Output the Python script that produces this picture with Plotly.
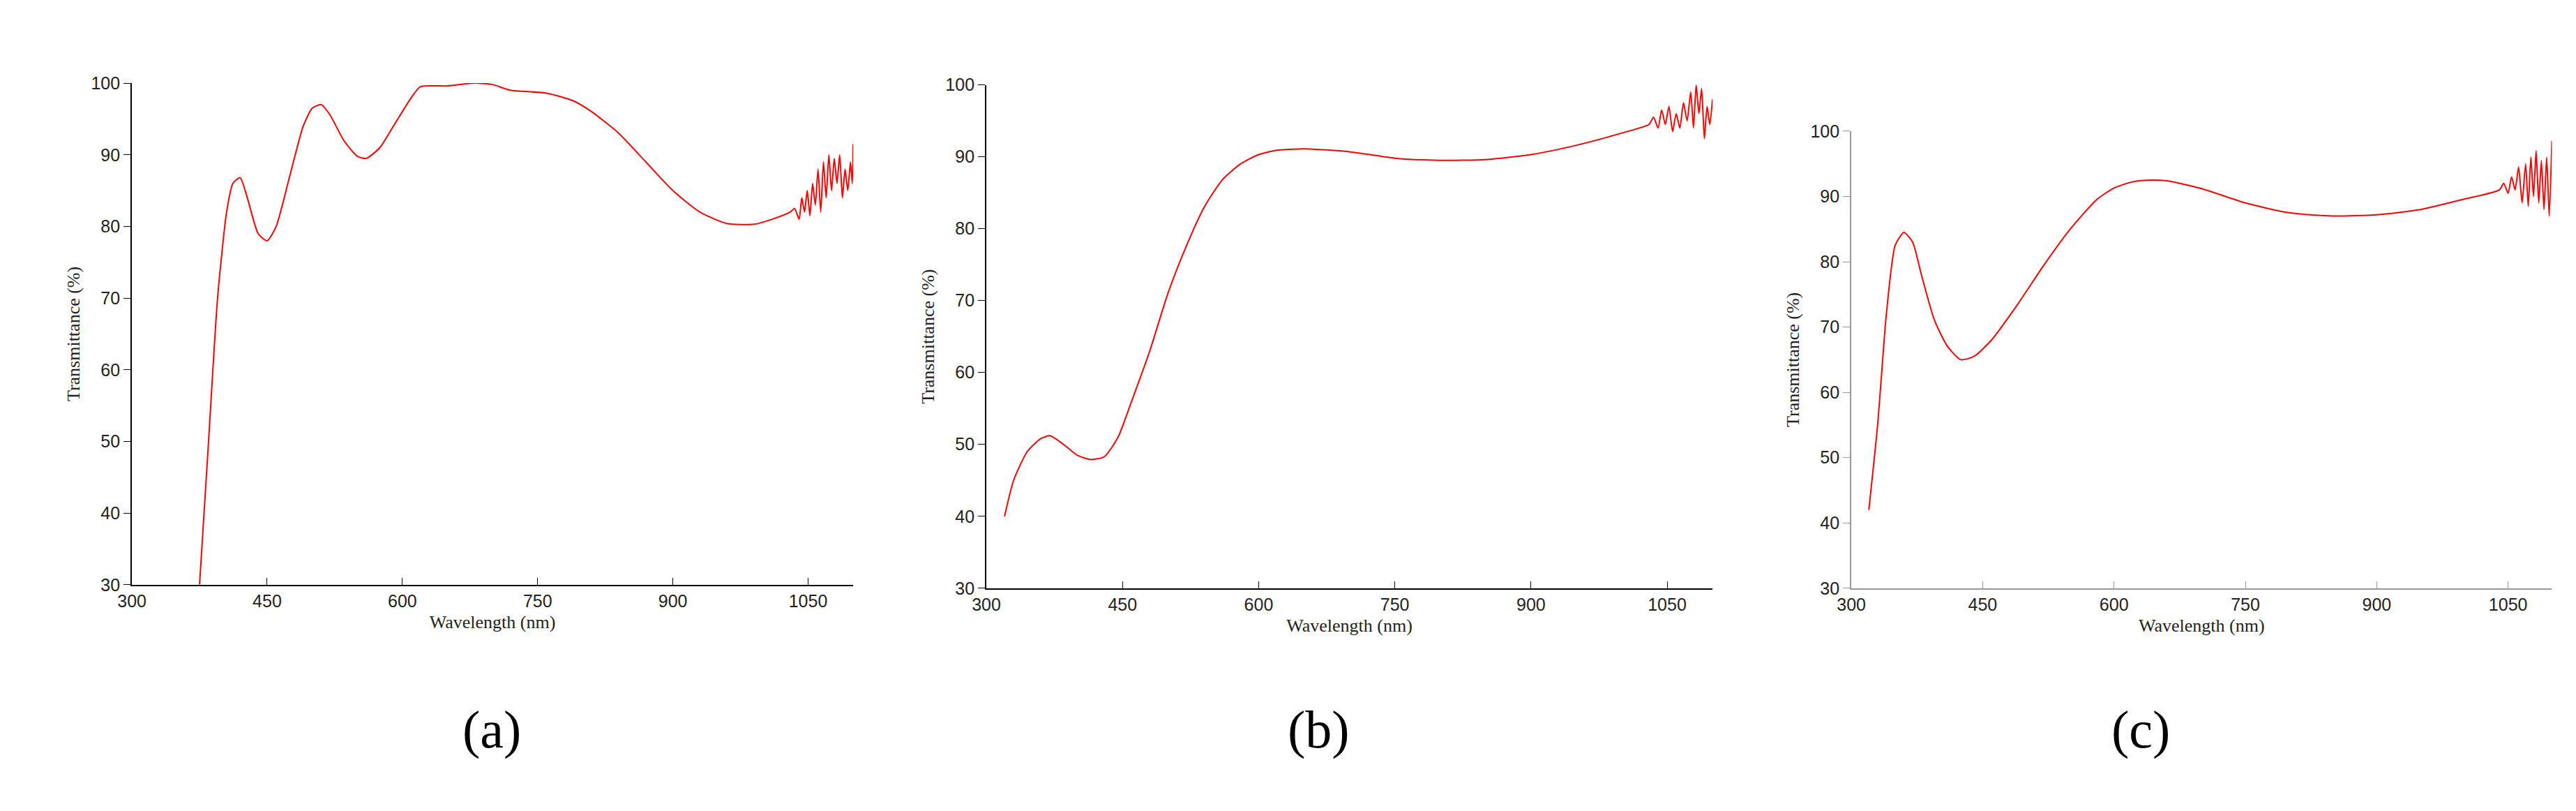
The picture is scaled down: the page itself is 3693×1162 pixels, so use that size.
import plotly.graph_objects as go

# Panel (a)
xa = [375,385,395,405,412,420,428,440,450,460,475,490,500,510,520,535,550,560,575,590,610,620,650,680,700,720,760,790,810,840,870,900,930,960,990,1010,1030,
      1035,1040,1043,1046,1049,1052,1055,1058,1061,1064,1067,1070,1073,1076,1079,1082,1085,1088,1091,1094,1097,1099,1100]
ya = [30,50,70,82,86,86.8,84,79,78,80,87,94,96.5,97,95.5,92,89.8,89.5,91,94,98,99.5,99.6,100,99.8,99,98.6,97.5,96,93,89,85,82,80.4,80.3,81,82,
      82.5,81,84,82,85,81.5,86,83,88,82,89,84,90,85,89.5,86,90,84,88,85,89,86,91.5]

# Panel (b)
xb = [320,330,345,360,370,385,400,415,430,445,460,480,500,520,540,560,580,600,620,650,700,750,800,850,900,950,1000,1030,
      1035,1040,1044,1048,1052,1056,1060,1064,1068,1072,1076,1079,1082,1085,1088,1091,1094,1097,1100]
yb = [40,45,49,50.8,51.2,50,48.5,47.9,48.3,51,56,63,71,77.5,83,86.8,89,90.3,90.9,91.1,90.7,89.8,89.5,89.6,90.3,91.6,93.3,94.5,
      95.5,94,96.5,94.5,97,93.5,96,94,97.5,95,99,94,100,96,99.5,92.5,97,94.5,98]

# Panel (c)
xc = [320,330,340,350,360,370,380,395,410,425,440,460,490,520,550,580,600,620,640,660,700,750,800,850,900,950,1000,1040,
      1045,1050,1054,1058,1062,1066,1070,1073,1076,1079,1082,1085,1088,1091,1094,1097,1100]
yc = [42,55,72,82.5,84.5,83,78,71,67,65,65.5,68,73.5,79.5,85,89.5,91.3,92.2,92.5,92.4,91.2,89,87.5,87,87.2,88,89.6,91,
      92,90.5,93,91,94.5,89,95,88.5,96,90,97,89,95.5,88,96,87,98.5]

xticks = [300,450,600,750,900,1050]
yticks = [30,40,50,60,70,80,90,100]
labels = ["(a)","(b)","(c)"]

fig = go.Figure()
data = [(xa,ya),(xb,yb),(xc,yc)]
xdom = [(0.0436,0.3252),(0.3772,0.6607),(0.7149,0.9884)]
ydom = [(0.2806,0.9144),(0.2762,0.9122),(0.2762,0.8537)]
labx = [0.172,0.507,0.840]
axcol = ["black","black","#999999"]
for i,(x,y) in enumerate(data):
    n = "" if i==0 else str(i+1)
    fig.add_trace(go.Scatter(x=x,y=y,mode="lines",line=dict(color="#ff0000",width=2,shape="spline",smoothing=0.6),
                             xaxis="x"+n,yaxis="y"+n,showlegend=False))
    fig.update_layout(**{
        "xaxis"+n: dict(domain=list(xdom[i]),range=[300,1100],tickvals=xticks,ticks="inside",ticklen=10,
                        showline=True,linecolor=axcol[i],linewidth=2,tickcolor=axcol[i],showgrid=False,zeroline=False,
                        anchor="y"+n,tickfont=dict(family="Liberation Sans",size=25,color="#222"),
                        title=dict(text="Wavelength (nm)",font=dict(family="Liberation Serif",size=26,color="#222"),standoff=8)),
        "yaxis"+n: dict(domain=list(ydom[i]),range=[30,100],tickvals=yticks,ticks="outside",ticklen=10,
                        showline=True,linecolor=axcol[i],linewidth=2,tickcolor=axcol[i],showgrid=False,zeroline=False,
                        anchor="x"+n,tickfont=dict(family="Liberation Sans",size=25,color="#222"),
                        title=dict(text="Transmittance (%)",font=dict(family="Liberation Serif",size=26,color="#222"),standoff=8)),
    })
    fig.add_annotation(text=labels[i],xref="paper",yref="paper",x=labx[i],y=0.058,
                       showarrow=False,font=dict(family="Liberation Serif",size=76,color="black"))

fig.update_layout(width=3693,height=1162,margin=dict(l=0,r=0,t=0,b=0),
                  plot_bgcolor="white",paper_bgcolor="white")
fig.write_html("out.html")
